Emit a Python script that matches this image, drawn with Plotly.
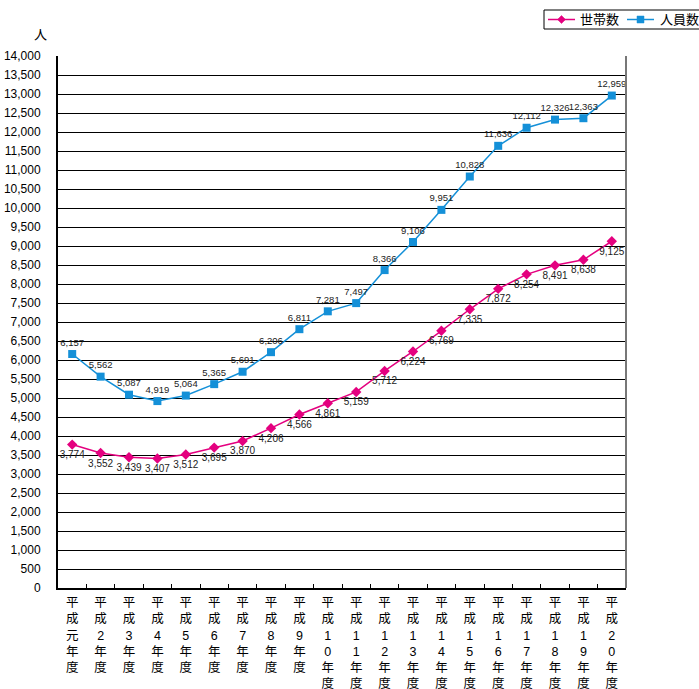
import plotly.graph_objects as go

# 年度ラベル（縦書きにするため1文字ずつ改行）
years = ["平成元年度"] + [f"平成{n}年度" for n in range(2, 21)]
year_labels = ["<br>".join(list(y)) for y in years]

households = [3774, 3552, 3439, 3407, 3512, 3695, 3870, 4206, 4566, 4861,
              5159, 5712, 6224, 6769, 7335, 7872, 8254, 8491, 8638, 9125]
persons = [6157, 5562, 5087, 4919, 5064, 5365, 5691, 6206, 6811, 7281,
           7497, 8366, 9106, 9951, 10828, 11636, 12112, 12326, 12363, 12959]

series_names = ["世帯数", "人員数"]

y_ticks = list(range(0, 14001, 500))
y_tick_text = [f"{v:,}" for v in y_ticks]

PINK = "#E4007F"
BLUE = "#1490D8"
FONT = "Liberation Sans, Noto Sans CJK JP, sans-serif"

W, H = 699, 689
ML, MR, MT, MB = 58, 73, 56, 101
PW, PH = W - ML - MR, H - MT - MB


def px(x):
    return (x - ML) / PW


def py(y):
    return (H - MB - y) / PH


fig = go.Figure()
fig.add_trace(go.Scatter(
    x=year_labels, y=households, name=series_names[0],
    mode="lines+markers+text",
    line=dict(color=PINK, width=1.5),
    marker=dict(symbol="diamond", size=8, color=PINK),
    text=[f"{v:,}" for v in households],
    textposition="bottom center",
    textfont=dict(size=10, color="#222", family=FONT),
))
fig.add_trace(go.Scatter(
    x=year_labels, y=persons, name=series_names[1],
    mode="lines+markers+text",
    line=dict(color=BLUE, width=1.5),
    marker=dict(symbol="square", size=8, color=BLUE),
    text=[f"{v:,}" for v in persons],
    textposition="top center",
    textfont=dict(size=9.5, color="#222", family=FONT),
))

# 凡例（右上の枠付き）
legend_shapes = [
    dict(type="rect", xref="paper", yref="paper",
         x0=px(544), x1=px(701), y0=py(29), y1=py(10),
         line=dict(color="black", width=1), fillcolor="white", layer="above"),
    dict(type="line", xref="paper", yref="paper",
         x0=px(548), x1=px(575), y0=py(19.5), y1=py(19.5),
         line=dict(color=PINK, width=1.5), layer="above"),
    dict(type="path", xref="paper", yref="paper",
         path=(f"M {px(561.5)} {py(15.5)} L {px(565.5)} {py(19.5)} "
               f"L {px(561.5)} {py(23.5)} L {px(557.5)} {py(19.5)} Z"),
         line=dict(color=PINK, width=0.5), fillcolor=PINK, layer="above"),
    dict(type="line", xref="paper", yref="paper",
         x0=px(627), x1=px(654), y0=py(19.5), y1=py(19.5),
         line=dict(color=BLUE, width=1.5), layer="above"),
    dict(type="rect", xref="paper", yref="paper",
         x0=px(637), x1=px(644), y0=py(23), y1=py(16),
         line=dict(color=BLUE, width=0.5), fillcolor=BLUE, layer="above"),
    # 右枠（灰色）
    dict(type="line", xref="paper", yref="paper", x0=1, x1=1, y0=0, y1=1,
         line=dict(color="#777", width=2)),
]

legend_texts = [
    dict(text=series_names[0], xref="paper", yref="paper",
         x=px(578), y=py(19.5), xanchor="left", yanchor="middle",
         showarrow=False, font=dict(size=13)),
    dict(text=series_names[1], xref="paper", yref="paper",
         x=px(658), y=py(19.5), xanchor="left", yanchor="middle",
         showarrow=False, font=dict(size=13)),
    dict(text="人", xref="paper", yref="paper", x=px(40), y=py(34),
         showarrow=False, font=dict(size=13),
         xanchor="center", yanchor="middle"),
]

fig.update_layout(
    width=W, height=H,
    margin=dict(l=ML, r=MR, t=MT, b=MB, autoexpand=False),
    paper_bgcolor="white", plot_bgcolor="white",
    font=dict(family=FONT, size=12, color="black"),
    showlegend=False,
    xaxis=dict(
        type="category", range=[-0.5, 19.5],
        showgrid=False, showline=True, linecolor="black", linewidth=2,
        ticks="inside", tickson="boundaries", ticklen=4, tickcolor="black",
        tickfont=dict(size=12.5), tickangle=0, ticklabelstandoff=2,
    ),
    yaxis=dict(
        range=[0, 14000], tickvals=y_ticks, ticktext=y_tick_text,
        showgrid=True, gridcolor="black", gridwidth=1,
        showline=True, linecolor="black", linewidth=2,
        ticks="", tickfont=dict(size=12), ticklabelstandoff=13,
        zeroline=False,
    ),
    annotations=legend_texts,
    shapes=legend_shapes,
)

fig.write_html("out.html")
